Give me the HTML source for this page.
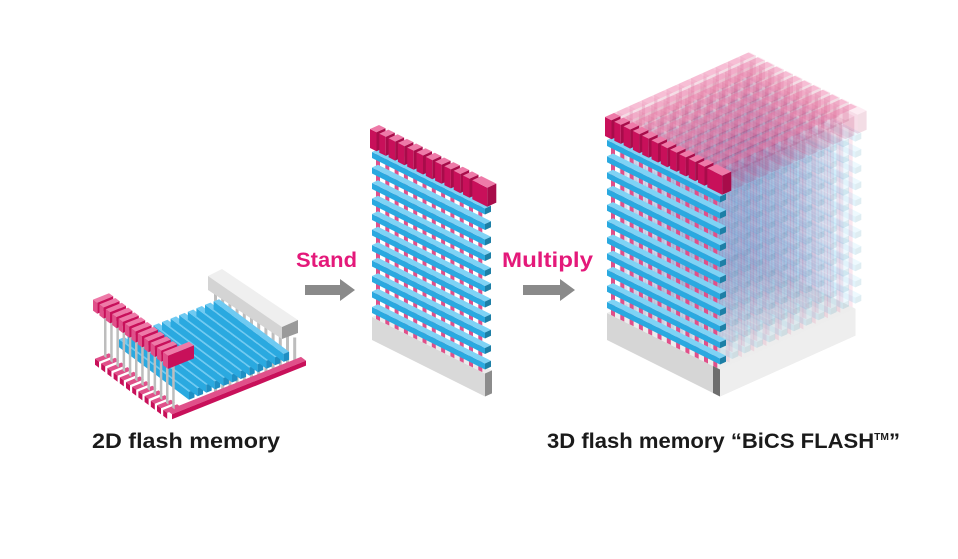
<!DOCTYPE html>
<html><head><meta charset="utf-8"><style>
html,body{margin:0;padding:0;background:#fff;}
svg{display:block}
text{font-family:"Liberation Sans",sans-serif;font-weight:bold}
</style></head><body>
<svg id="s" width="958" height="559" viewBox="0 0 958 559" xmlns="http://www.w3.org/2000/svg">
<g id="g"></g>
<text x="92" y="448" font-size="21.5" fill="#1a1a1a" textLength="188" lengthAdjust="spacingAndGlyphs">2D flash memory</text>
<text x="547" y="448" font-size="21.5" fill="#1a1a1a" textLength="353" lengthAdjust="spacingAndGlyphs">3D flash memory “BiCS FLASH<tspan font-size="10" dy="-8">TM</tspan><tspan dy="8">”</tspan></text>
<text x="296" y="267" font-size="21" fill="#e4197a" textLength="61" lengthAdjust="spacingAndGlyphs">Stand</text>
<text x="502" y="267" font-size="21" fill="#e4197a" textLength="91" lengthAdjust="spacingAndGlyphs">Multiply</text>
<polygon points="305,285 340,285 340,279 355,290 340,301 340,295 305,295" fill="#8a8a8a"/>
<polygon points="523,285 560,285 560,279 575,290 560,301 560,295 523,295" fill="#8a8a8a"/>
</svg>
<script>
var g=document.getElementById('g');var NS='http://www.w3.org/2000/svg';
function poly(pts,fill,op,parent){var p=document.createElementNS(NS,'polygon');p.setAttribute('points',pts.map(function(a){return a[0].toFixed(1)+','+a[1].toFixed(1)}).join(' '));p.setAttribute('fill',fill);if(op!==undefined&&op<1)p.setAttribute('fill-opacity',op);(parent||g).appendChild(p);}
var DX=1,DY=-0.45;
function mk(x0,y0){return function(u,v,d){d=d||0;return [x0+u+d*DX,y0+0.5*u+v+d*DY];};}
function box(P,u1,u2,v1,v2,dd,cf,ct,cs,op){
 poly([P(u1,v1),P(u2,v1),P(u2,v2),P(u1,v2)],cf,op);
 poly([P(u1,v1),P(u2,v1),P(u2,v1,dd),P(u1,v1,dd)],ct,op);
 poly([P(u2,v1),P(u2,v1,dd),P(u2,v2,dd),P(u2,v2)],cs,op);
}
function wall(x0,y0,sp,baseT,baseB,op,noBase){
 var P=mk(x0,y0);
 if(!noBase) box(P,0,113,baseT,baseB,7,'#d9d9d9','#ececec','#8c8c8c',op);
 for(var i=0;i<12;i++){var u=4+i*9.3;poly([P(u,-4),P(u+4,-4),P(u+4,baseT),P(u,baseT)],'#e0508a',op);}
 for(var j=0;j<11;j++){var v=j*sp;box(P,0,113,v,v+6,6,'#2aa9e0','#7fd3f5','#1d7fa6',op);}
 for(var i=0;i<12;i++){var u=i*9.3,w=(i==11)?15:6.5;box(P,u-2,u-2+w,-22,-3,9,'#c8105a','#ee7aa8','#a80c4a',op);}
}
(function(){
 var x0=607,y0=140,sp=16.2,P=mk(x0,y0);
 var N=11,st=12.3;
 box(P,0,113,173,200,N*st,'#d6d6d6','#ededed','#e6e6e6',1);
 poly([P(113,173),P(113,173,N*st),P(113,200,N*st),P(113,200)],'#eeeeee',1);
 for(var k=N;k>=1;k--){var d=k*st;wall(x0+d*DX,y0+d*DY,sp,173,200,0.14,true);}
 for(var i=0;i<12;i++){var u=i*9.3-2;poly([P(u,-22),P(u+6.5,-22),P(u+6.5,-22,N*st+8),P(u,-22,N*st+8)],'#ee7aa8',0.4);}
 wall(x0,y0,sp,173,200,1,true);
 poly([P(106,173),P(113,173),P(113,200),P(106,200)],'#6e6e6e',1);
})();
wall(372,152,15.5,165,188,1);
(function(){
 function L(a,b,h){return [97+a+b,358+a*0.75-b*0.4-h];}
 for(var i=0;i<12;i++){var x=214+i*7.2;var yt=290+(x-214)*0.6;var yb=410-(x-168)*0.39;
  poly([[x,yt],[x+3,yt],[x+3,yb],[x,yb]],'#bdbdbd');}
 poly([[208,276],[222,269],[298,320],[282,327]],'#efefef');
 poly([[208,276],[282,327],[282,339],[208,290]],'#d4d4d4');
 poly([[282,327],[298,320],[298,333],[282,339]],'#9a9a9a');
 poly([L(70,0,0),L(75,0,0),L(75,134,0),L(70,134,0)],'#e0508a');
 poly([L(75,0,0),L(75,134,0),L(75,134,-5),L(75,0,-5)],'#c8105a');
 for(var i=0;i<12;i++){var b=22+i*8.6;
  poly([L(0,b,2),L(70,b,2),L(70,b,10),L(0,b,10)],'#2aa9e0');
  poly([L(0,b,10),L(70,b,10),L(70,b+5.5,10),L(0,b+5.5,10)],'#6fcaf2');
  poly([L(70,b,10),L(70,b+5.5,10),L(70,b+5.5,2),L(70,b,2)],'#1f8fc4');}
 for(var i=0;i<12;i++){var a=i*6.2;
  poly([L(a,-2,0),L(a+4,-2,0),L(a+4,12,0),L(a,12,0)],'#e0508a');
  poly([L(a,-2,0),L(a+4,-2,0),L(a+4,-2,-6),L(a,-2,-6)],'#c8105a');}
 for(var i=0;i<12;i++){var a=1+i*6.2;poly([L(a,6,0),L(a+2.5,6,0),L(a+2.5,6,55),L(a,6,55)],'#bdbdbd');}
 for(var i=0;i<11;i++){var a=i*6.4,w=4.2,h1=60,h2=49;
  poly([L(a,-4,h1),L(a+w,-4,h1),L(a+w,12,h1),L(a,12,h1)],'#ee7aa8');
  poly([L(a+w,-4,h1),L(a+w,12,h1),L(a+w,12,h2),L(a+w,-4,h2)],'#c8105a');
  poly([L(a,-4,h1),L(a+w,-4,h1),L(a+w,-4,h2),L(a,-4,h2)],'#e0508a');}
 poly([L(70,-4,60),L(75,-4,60),L(75,22,60),L(70,22,60)],'#ee7aa8');
 poly([L(75,-4,60),L(75,22,60),L(75,22,47),L(75,-4,47)],'#c8105a');
 poly([L(70,-4,60),L(75,-4,60),L(75,-4,47),L(70,-4,47)],'#e0508a');
})();
</script>
</body></html>
